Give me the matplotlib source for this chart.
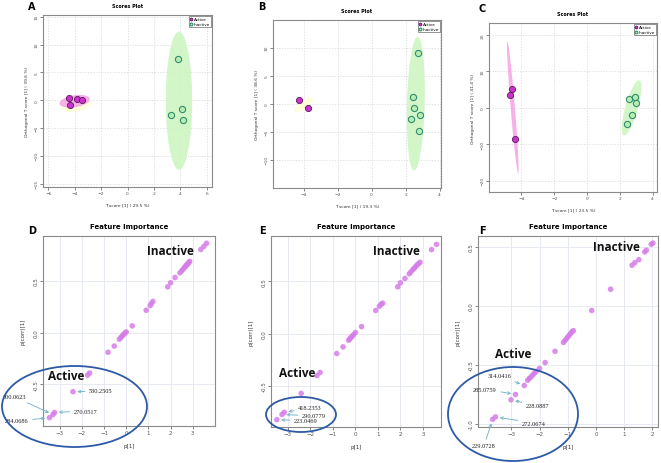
import numpy as np
import matplotlib
matplotlib.use("Agg")
import matplotlib.pyplot as plt
from matplotlib.patches import Ellipse, Polygon

W, H = 661, 464
plt.rcParams.update({
    "font.family": "DejaVu Sans",
    "axes.edgecolor": "#8a8a8a",
    "axes.linewidth": 0.8,
    "xtick.color": "#555555",
    "ytick.color": "#555555",
})

# ---------------- data: scores plots (A, B, C) ----------------
a_act_x = [-4.40, -4.33, -3.80, -3.43]
a_act_y = [0.30, -0.93, 0.20, 0.06]
a_ina_x = [3.85, 4.15, 3.30, 4.20]
a_ina_y = [7.45, -1.55, -2.67, -3.60]

b_act_x = [-4.25, -3.72]
b_act_y = [0.65, -0.71]
b_ina_x = [2.75, 2.45, 2.47, 2.31, 2.84, 2.76]
b_ina_y = [9.00, 1.18, -0.83, -2.78, -2.07, -4.80]

c_act_x = [-4.59, -4.67, -4.37]
c_act_y = [5.20, 3.65, -8.60]
c_ina_x = [2.57, 2.94, 2.98, 2.73, 2.43]
c_ina_y = [2.47, 2.92, 1.46, -2.00, -4.38]

# confidence ellipses: centre, half-axis vector u, half-axis vector v (data units)
a_ell_act = [(-4.0, -0.2), (1.15, 0.45), (-0.08, 1.05)]
a_ell_ina = [(3.9, -0.1), (0.0, 12.4), (1.0, 0.0)]
b_ell_ina = [(2.6, 0.0), (0.1, 11.9), (0.52, 0.0)]
c_ell_act = [(-4.53, 0.1), (-0.33, 18.1), (0.13, 0.0)]
c_ell_ina = [(2.72, 0.0), (0.45, 7.6), (0.4, 0.0)]

a_xticks = [-6, -4, -2, 0, 2, 4, 6]
a_yticks = [-15, -10, -5, 0, 5, 10, 15]
b_xticks = [-4, -2, 0, 2, 4]
b_yticks = [-10, -5, 0, 5, 10]
c_xticks = [-4, -2, 0, 2, 4]
c_yticks = [-20, -10, 0, 10, 20]

# ---------------- data: feature importance (D, E, F) ----------------
d_x = [-3.46, -3.30, -3.23, -2.40, -1.74, -1.65, -0.82, -0.54, -0.31, -0.24, -0.18,
       -0.12, -0.06, 0.00, 0.27, 0.90, 1.08, 1.14, 1.20, 1.87, 2.00, 2.20, 2.42, 2.50,
       2.56, 2.62, 2.66, 2.70, 2.74, 2.78, 2.82, 2.86, 3.36, 3.50, 3.62]
d_y = [-0.82, -0.79, -0.77, -0.57, -0.41, -0.39, -0.19, -0.13, -0.064, -0.048, -0.032,
       -0.019, -0.006, 0.006, 0.064, 0.215, 0.26, 0.28, 0.30, 0.44, 0.48, 0.53, 0.575, 0.595,
       0.61, 0.625, 0.635, 0.645, 0.655, 0.665, 0.675, 0.685, 0.80, 0.83, 0.86]

e_x = [-3.49, -3.26, -3.16, -2.41, -1.71, -1.57, -0.83, -0.55, -0.30, -0.25, -0.20,
       -0.14, -0.08, 0.00, 0.27, 0.90, 1.06, 1.14, 1.21, 1.88, 2.00, 2.20, 2.39, 2.47,
       2.55, 2.62, 2.68, 2.74, 2.80, 2.87, 3.38, 3.60]
e_y = [-0.82, -0.77, -0.75, -0.57, -0.40, -0.37, -0.19, -0.127, -0.063, -0.05, -0.038,
       -0.024, -0.01, 0.01, 0.066, 0.22, 0.26, 0.28, 0.29, 0.446, 0.484, 0.525, 0.57, 0.59,
       0.61, 0.625, 0.64, 0.655, 0.665, 0.68, 0.80, 0.85]

f_x = [-3.66, -3.56, -3.01, -2.85, -2.54, -2.42, -2.36, -2.30, -2.24, -2.18, -2.12,
       -2.00, -1.80, -1.45, -1.15, -1.10, -1.05, -1.00, -0.95, -0.90, -0.85, -0.80,
       -0.15, 0.52, 1.28, 1.38, 1.52, 1.73, 1.79, 1.96, 2.02]
f_y = [-0.96, -0.94, -0.795, -0.75, -0.674, -0.63, -0.615, -0.60, -0.585, -0.57, -0.555,
       -0.53, -0.48, -0.385, -0.31, -0.295, -0.28, -0.265, -0.25, -0.235, -0.22, -0.21,
       -0.04, 0.14, 0.343, 0.365, 0.39, 0.455, 0.47, 0.52, 0.53]

# annotations: label, point (data), text position (figure px, left/centre)
d_notes = [("530.2505", (-2.40, -0.57), (89, 392)),
           ("300.0623", (-3.30, -0.79), (3, 398)),
           ("270.0517", (-3.23, -0.77), (74, 412)),
           ("284.0686", (-3.46, -0.82), (5, 422))]
e_notes = [("418.2353", (-3.16, -0.75), (298, 409)),
           ("290.0779", (-3.26, -0.77), (302, 417)),
           ("223.0469", (-3.49, -0.82), (294, 422))]
f_notes = [("314.0416", (-2.54, -0.674), (488, 377)),
           ("285.0759", (-2.85, -0.75), (473, 390)),
           ("228.0887", (-3.01, -0.795), (526, 407)),
           ("272.0674", (-3.56, -0.94), (522, 424)),
           ("229.0728", (-3.66, -0.96), (472, 447))]

ACT = "#cc33cc"
ACT_EDGE = "#5a1a5a"
INA_EDGE = "#2f8f6f"
INA_FILL = "#b8ecb0"
ELL_ACT = "#f7a8e6"
ELL_INA = "#cdf5c2"
PT = "#d67de8"
BLUE = "#2d5aa6"
ARROW = "#7fb7cc"


def px_axes(l, t, r, b):
    return fig.add_axes([l / W, 1 - b / H, (r - l) / W, (b - t) / H])


def fx(x):
    return x / W


def fy(y):
    return 1 - y / H


def ellipse(ax, ell, color, alpha=0.9):
    c, u, v = ell
    t = np.linspace(0, 2 * np.pi, 120)
    xs = c[0] + u[0] * np.cos(t) + v[0] * np.sin(t)
    ys = c[1] + u[1] * np.cos(t) + v[1] * np.sin(t)
    ax.add_patch(Polygon(np.column_stack([xs, ys]), closed=True, facecolor=color,
                         edgecolor="none", alpha=alpha, zorder=1))


def scores(ax, xl, yl, xt, yt, xlabel, ylabel):
    ax.set_xlim(*xl)
    ax.set_ylim(*yl)
    ax.set_xticks(xt)
    ax.set_yticks(yt)
    ax.tick_params(labelsize=3.2, length=2, width=0.5, pad=1)
    for lab in ax.get_yticklabels():
        lab.set_rotation(90)
        lab.set_va("center")
    ax.grid(True, color="#d8d8d8", linestyle=(0, (2, 2)), linewidth=0.5)
    ax.set_axisbelow(True)
    ax.set_title("Scores Plot", fontsize=3.5, fontweight="bold", pad=6)
    ax.set_xlabel(xlabel, fontsize=3.2, labelpad=5, color="#333333")
    ax.set_ylabel(ylabel, fontsize=3.2, labelpad=4, color="#333333")


def points(ax, ax_x, ax_y, ix, iy):
    ax.scatter(ax_x, ax_y, s=20, c=ACT, edgecolors=ACT_EDGE, linewidths=0.6, zorder=3,
               label="Active")
    ax.scatter(ix, iy, s=20, c=INA_FILL, edgecolors=INA_EDGE, linewidths=0.8, zorder=3,
               label="Inactive")
    leg = ax.legend(loc="upper right", fontsize=3, handlelength=0.6, handletextpad=0.3,
                    borderpad=0.3, labelspacing=0.2, markerscale=0.45, fancybox=False,
                    borderaxespad=0.2)
    leg.get_frame().set_edgecolor("#444444")
    leg.get_frame().set_linewidth(0.5)


def importance(ax, xs, ys, xl, yl, xt, yt):
    ax.scatter(xs, ys, s=16, c=PT, alpha=0.85, edgecolors="none", zorder=3)
    ax.set_xlim(*xl)
    ax.set_ylim(*yl)
    ax.set_xticks(xt)
    ax.set_yticks(yt)
    ax.set_yticklabels([f"{v:.1f}" for v in yt])
    ax.tick_params(labelsize=4, length=2, width=0.5, pad=1)
    for lab in ax.get_yticklabels():
        lab.set_rotation(90)
        lab.set_va("center")
    ax.grid(True, color="#e3e6ee", linewidth=0.6)
    ax.set_axisbelow(True)
    ax.set_title("Feature Importance", fontsize=5, fontweight="bold", pad=6)
    ax.set_xlabel("p[1]", fontsize=4, labelpad=6, color="#333333")
    ax.set_ylabel("p(corr)[1]", fontsize=4, labelpad=6, color="#333333")


def notes(ax, items):
    for lab, xy, (tx, ty) in items:
        ax.annotate(lab, xy=xy, xytext=(fx(tx), fy(ty)), textcoords="figure fraction",
                    fontsize=4.6, family="Liberation Serif", ha="left", va="center",
                    color="#222222", annotation_clip=False,
                    arrowprops=dict(arrowstyle="->", color=ARROW, lw=0.7,
                                    shrinkA=1, shrinkB=3))


fig = plt.figure(figsize=(W / 100, H / 100), dpi=100)

# ---- A ----
ax = px_axes(43, 16, 212, 188)
ellipse(ax, [(-3.9, -0.9), (1.1, 0.4), (0.0, 1.1)], "#ffffd0", 0.8)
ellipse(ax, a_ell_act, ELL_ACT)
ellipse(ax, a_ell_ina, ELL_INA)
points(ax, a_act_x, a_act_y, a_ina_x, a_ina_y)
scores(ax, (-6.4, 6.4), (-15.6, 15.3), a_xticks, a_yticks,
       "T score [1] ( 29.5 %)", "Orthogonal T score [1] ( 39.6 %)")

# ---- B ----
ax = px_axes(273, 21, 441, 189)
ellipse(ax, [(-4.0, -0.2), (0.45, 1.3), (0.3, -0.1)], "#ffffd0", 0.8)
ellipse(ax, b_ell_ina, ELL_INA)
points(ax, b_act_x, b_act_y, b_ina_x, b_ina_y)
scores(ax, (-5.8, 4.08), (-15.0, 14.9), b_xticks, b_yticks,
       "T score [1] ( 19.3 %)", "Orthogonal T score [1] ( 38.6 %)")

# ---- C ----
ax = px_axes(489, 24, 657, 193)
ellipse(ax, c_ell_act, ELL_ACT)
ellipse(ax, c_ell_ina, ELL_INA)
points(ax, c_act_x, c_act_y, c_ina_x, c_ina_y)
scores(ax, (-5.98, 4.27), (-23.1, 23.3), c_xticks, c_yticks,
       "T score [1] ( 23.5 %)", "Orthogonal T score [1] ( 41.4 %)")

# ---- D ----
ax = px_axes(43, 237, 215, 427)
importance(ax, d_x, d_y, (-3.75, 4.0), (-0.9, 0.93), [-3, -2, -1, 0, 1, 2, 3], [-0.5, 0.0, 0.5])
notes(ax, d_notes)

# ---- E ----
ax = px_axes(271, 237, 441, 428)
importance(ax, e_x, e_y, (-3.75, 3.8), (-0.89, 0.93), [-3, -2, -1, 0, 1, 2, 3], [-0.5, 0.0, 0.5])
notes(ax, e_notes)

# ---- F ----
ax = px_axes(478, 237, 658, 428)
importance(ax, f_x, f_y, (-4.18, 2.2), (-1.025, 0.59), [-3, -2, -1, 0, 1, 2], [-1.0, -0.5, 0.0, 0.5])
notes(ax, f_notes)

# group labels
for tx, ty, s in [(147, 252, "Inactive"), (48, 377, "Active"),
                  (373, 252, "Inactive"), (279, 374, "Active"),
                  (593, 248, "Inactive"), (495, 355, "Active")]:
    fig.text(fx(tx), fy(ty), s, fontsize=8.5, fontweight="bold", family="Open Sans",
             ha="left", va="center", color="#111111")

# blue circles around active features (figure px: centre, width, height)
for cx, cy, w, h in [(74.5, 407.5, 145, 81), (301, 415.5, 70, 35), (513, 415, 130, 94)]:
    fig.patches.append(Ellipse((fx(cx), fy(cy)), w / W, h / H, transform=fig.transFigure,
                               fill=False, edgecolor=BLUE, linewidth=1.3, zorder=10))

# panel letters
for tx, ty, s in [(32, 7, "A"), (262, 7, "B"), (482, 9, "C"),
                  (32, 231, "D"), (262, 231, "E"), (482, 231, "F")]:
    fig.text(fx(tx), fy(ty), s, fontsize=7, fontweight="bold", ha="center", va="center")

fig.savefig("out.png", dpi=100)
